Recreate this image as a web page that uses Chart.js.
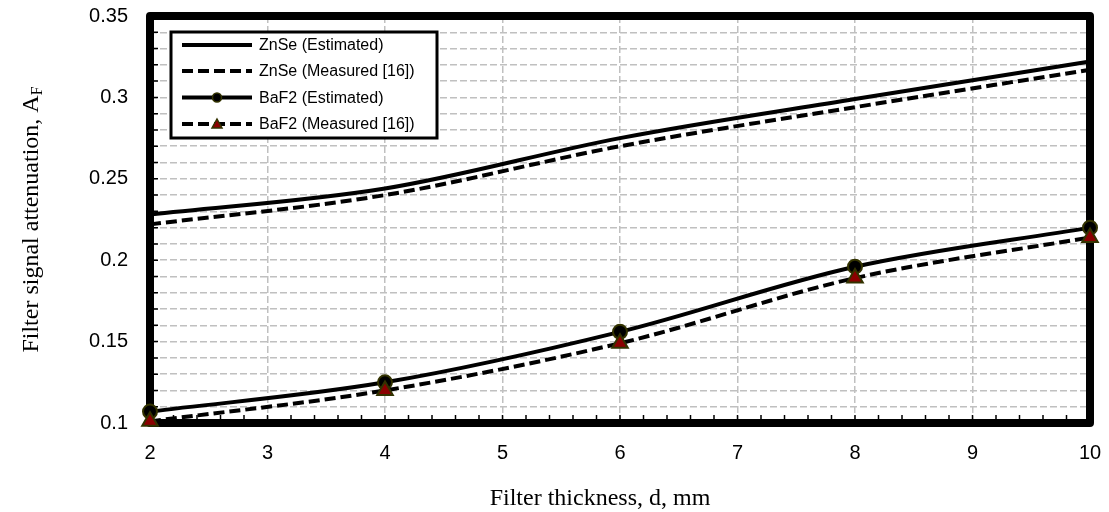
<!DOCTYPE html>
<html>
<head>
<meta charset="utf-8">
<script src="https://cdn.jsdelivr.net/npm/chart.js@4.4.1/dist/chart.umd.min.js"></script>
<style>
  html, body { margin: 0; padding: 0; background: #fff; }
</style>
</head>
<body>
<canvas id="attenChart" width="1109" height="512"></canvas>
<script>
const thickness = [2, 4, 6, 8, 10];
const znseEstimated = [0.228, 0.244, 0.275, 0.299, 0.322];
const znseMeasured = [0.222, 0.240, 0.270, 0.294, 0.317];
const baf2Estimated = [0.107, 0.125, 0.156, 0.196, 0.220];
const baf2Measured = [0.101, 0.120, 0.149, 0.189, 0.214];
const yTickLabels = ["0.1", "0.15", "0.2", "0.25", "0.3", "0.35"];
const xTickLabels = ["2", "3", "4", "5", "6", "7", "8", "9", "10"];

const seriesNames = ["ZnSe (Estimated)", "ZnSe (Measured [16])", "BaF2 (Estimated)", "BaF2 (Measured [16])"];

function toPoints(values) {
    return thickness.map((t, i) => ({ x: t, y: values[i] }));
}

const SANS = "'Liberation Sans', Arial, sans-serif";
const SERIF = "'Liberation Serif', 'Times New Roman', serif";
const OLIVE = "#333300";

// frame, inner tick marks and axis titles
const framePlugin = {
    id: "frame",
    beforeDatasetsDraw(chart) {
        const { ctx, chartArea: a, scales } = chart;
        ctx.save();
        ctx.strokeStyle = "#000";
        ctx.lineWidth = 1.5;
        ctx.beginPath();
        for (let v = 2; v <= 10.001; v += 0.2) {
            const px = scales.x.getPixelForValue(v);
            ctx.moveTo(px, a.bottom);
            ctx.lineTo(px, a.bottom - 8);
        }
        for (let v = 0.1; v <= 0.3501; v += 0.01) {
            const py = scales.y.getPixelForValue(v);
            ctx.moveTo(a.left, py);
            ctx.lineTo(a.left + 8, py);
        }
        ctx.stroke();

        ctx.lineWidth = 8;
        ctx.lineJoin = "round";
        ctx.strokeRect(a.left, a.top, a.right - a.left, a.bottom - a.top);

        // axis titles
        ctx.fillStyle = "#000";
        ctx.font = "24px " + SERIF;
        ctx.textAlign = "center";
        ctx.textBaseline = "alphabetic";
        ctx.fillText("Filter thickness, d, mm", 600, 505);

        ctx.translate(38, (a.top + a.bottom) / 2);
        ctx.rotate(-Math.PI / 2);
        const main = "Filter signal attenuation, A";
        ctx.font = "24px " + SERIF;
        const w1 = ctx.measureText(main).width;
        ctx.font = "16px " + SERIF;
        const w2 = ctx.measureText("F").width;
        const start = -(w1 + w2) / 2;
        ctx.textAlign = "left";
        ctx.font = "24px " + SERIF;
        ctx.fillText(main, start, 0);
        ctx.font = "16px " + SERIF;
        ctx.fillText("F", start + w1, 4);
        ctx.restore();
    }
};

function drawMarker(ctx, style, x, y) {
    ctx.save();
    ctx.lineWidth = 1.5;
    ctx.strokeStyle = OLIVE;
    ctx.beginPath();
    if (style === "circle") {
        ctx.fillStyle = "#000";
        ctx.arc(x, y, 4.5, 0, Math.PI * 2);
    } else {
        ctx.fillStyle = "#8b0000";
        ctx.moveTo(x, y - 5);
        ctx.lineTo(x + 5, y + 4);
        ctx.lineTo(x - 5, y + 4);
        ctx.closePath();
    }
    ctx.fill();
    ctx.stroke();
    ctx.restore();
}

// boxed legend in the upper left of the plot
const boxLegendPlugin = {
    id: "boxLegend",
    afterDraw(chart) {
        const ctx = chart.ctx;
        const left = 171, top = 32, width = 266, height = 106;
        ctx.save();
        ctx.fillStyle = "#fff";
        ctx.fillRect(left, top, width, height);
        ctx.lineWidth = 3;
        ctx.strokeStyle = "#000";
        ctx.strokeRect(left, top, width, height);

        const rows = [45, 71, 97.5, 124];
        chart.data.datasets.forEach((ds, i) => {
            const y = rows[i];
            ctx.beginPath();
            ctx.setLineDash(ds.borderDash || []);
            ctx.lineWidth = 4;
            ctx.strokeStyle = "#000";
            ctx.moveTo(182, y);
            ctx.lineTo(252, y);
            ctx.stroke();
            ctx.setLineDash([]);
            if (ds.pointRadius > 0) {
                drawMarker(ctx, ds.pointStyle, 217, y);
            }
            ctx.fillStyle = "#000";
            ctx.font = "16px " + SANS;
            ctx.textAlign = "left";
            ctx.textBaseline = "middle";
            ctx.fillText(ds.label, 259, y + 1);
        });
        ctx.restore();
    }
};

const ctx = document.getElementById("attenChart").getContext("2d");

new Chart(ctx, {
    type: "line",
    data: {
        datasets: [
            {
                label: seriesNames[0],
                data: toPoints(znseEstimated),
                borderColor: "#000",
                borderWidth: 4,
                pointRadius: 0,
                cubicInterpolationMode: "monotone",
                order: 4
            },
            {
                label: seriesNames[1],
                data: toPoints(znseMeasured),
                borderColor: "#000",
                borderWidth: 4,
                borderDash: [11, 5],
                pointRadius: 0,
                cubicInterpolationMode: "monotone",
                order: 3
            },
            {
                label: seriesNames[2],
                data: toPoints(baf2Estimated),
                borderColor: "#000",
                borderWidth: 4,
                pointStyle: "circle",
                pointRadius: 7,
                pointBorderWidth: 2,
                pointBackgroundColor: "#000",
                pointBorderColor: OLIVE,
                cubicInterpolationMode: "monotone",
                order: 2
            },
            {
                label: seriesNames[3],
                data: toPoints(baf2Measured),
                borderColor: "#000",
                borderWidth: 4,
                borderDash: [11, 5],
                pointStyle: "triangle",
                pointRadius: 9,
                pointBorderWidth: 2,
                pointBackgroundColor: "#8b0000",
                pointBorderColor: OLIVE,
                cubicInterpolationMode: "monotone",
                order: 1
            }
        ]
    },
    options: {
        responsive: false,
        animation: false,
        devicePixelRatio: 1,
        clip: false,
        layout: { padding: { top: 16, right: 19, left: 0, bottom: 0 } },
        plugins: {
            legend: { display: false },
            tooltip: { enabled: false }
        },
        scales: {
            x: {
                type: "linear",
                min: 2,
                max: 10,
                afterFit(scale) {
                    scale.height = 89;
                    scale.paddingLeft = 0;
                    scale.paddingRight = 0;
                },
                ticks: {
                    stepSize: 1,
                    padding: 18,
                    color: "#000",
                    font: { family: SANS, size: 20 },
                    callback: (v) => xTickLabels.find(l => Number(l) === v) || ""
                },
                grid: { color: "#c0c0c0", lineWidth: 1.5, drawTicks: false },
                border: { display: false, dash: [7, 3] }
            },
            y: {
                min: 0.1,
                max: 0.35,
                afterFit(scale) {
                    scale.width = 150;
                    scale.paddingTop = 0;
                    scale.paddingBottom = 0;
                },
                ticks: {
                    stepSize: 0.01,
                    autoSkip: false,
                    padding: 22,
                    color: "#000",
                    font: { family: SANS, size: 20 },
                    callback: (v) => yTickLabels.find(l => Math.abs(parseFloat(l) - v) < 1e-6) || ""
                },
                grid: { color: "#c0c0c0", lineWidth: 1.5, drawTicks: false },
                border: { display: false, dash: [7, 3] }
            }
        }
    },
    plugins: [framePlugin, boxLegendPlugin]
});
</script>
</body>
</html>
